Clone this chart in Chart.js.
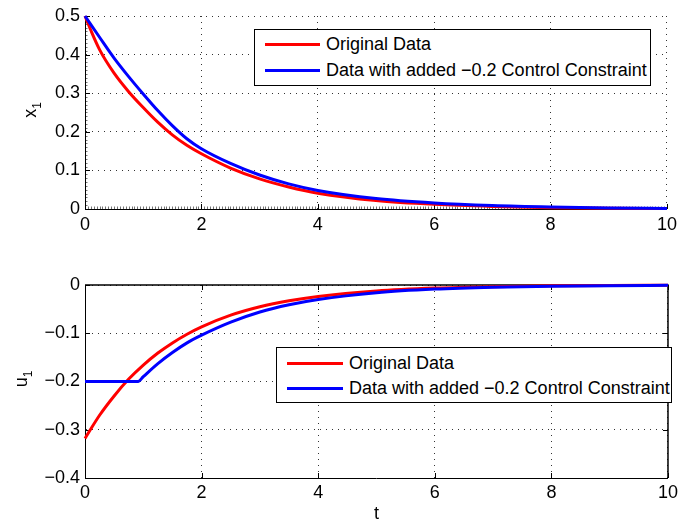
<!DOCTYPE html>
<html><head><meta charset="utf-8">
<script src="https://cdn.jsdelivr.net/npm/chart.js@4/dist/chart.umd.min.js"></script>
<style>
html,body{margin:0;padding:0;background:#fff;}
#wrap{position:relative;width:682px;height:525px;overflow:hidden;font-family:"Liberation Sans",Arial,sans-serif;color:#000;}
canvas{position:absolute;left:0;}
#c1{top:0;}
#c2{top:262px;}
.legend{position:absolute;border:1.5px solid #000;background:#fff;box-sizing:border-box;font-size:18px;}
.row{position:absolute;left:0;right:0;height:26px;line-height:26px;white-space:nowrap;}
.swatch{position:absolute;top:11.5px;height:3px;}
.ltext{position:absolute;top:0;}
.ylab{position:absolute;width:40px;height:20px;line-height:20px;text-align:center;font-size:18px;transform:rotate(-90deg);white-space:nowrap;}
.ylab sub{font-size:12px;vertical-align:-5px;line-height:0;}
</style></head>
<body>
<div id="wrap">
<canvas id="c1" width="682" height="262"></canvas>
<canvas id="c2" width="682" height="263"></canvas>
<div class="ylab" style="left:10px;top:100px;">x<sub>1</sub></div>
<div class="ylab" style="left:1px;top:369px;">u<sub>1</sub></div>
</div>
<script>
// ---- data ----
const seriesNames = ['Original Data', 'Data with added \u22120.2 Control Constraint'];
const seriesColors = ['#ff0000', '#0000ff'];

const tX1Original = [0,0.1,0.25,0.5,0.75,1,1.25,1.5,1.75,2,2.5,3,3.5,4,5,6,7,8,9,10];
const x1Original  = [0.5,0.463,0.413,0.352,0.304,0.263,0.225,0.192,0.165,0.143,0.106,0.078,0.057,0.041,0.022,0.012,0.0065,0.0035,0.0019,0.001];

const tX1Constrained = [0,0.25,0.5,0.75,1,1.25,1.5,1.75,2,2.5,3,3.5,4,5,6,7,8,9,10];
const x1Constrained  = [0.5,0.445,0.391,0.343,0.298,0.255,0.216,0.182,0.156,0.118,0.088,0.065,0.048,0.027,0.0155,0.0088,0.005,0.0028,0.0016];

const tU1Original = [0,0.25,0.5,0.75,1,1.25,1.5,1.75,2,2.5,3,3.5,4,5,6,7,8,9,10];
const u1Original  = [-0.318,-0.270,-0.230,-0.195,-0.166,-0.141,-0.120,-0.102,-0.0867,-0.0626,-0.0452,-0.0327,-0.0236,-0.0123,-0.0064,-0.0034,-0.0018,-0.0009,-0.0005];

const tU1Constrained = [0,0.5,0.91,1,1.25,1.5,1.75,2,2.5,3,3.5,4,5,6,7,8,9,10];
const u1Constrained  = [-0.2,-0.2,-0.2,-0.19,-0.163,-0.14,-0.12,-0.104,-0.077,-0.056,-0.041,-0.03,-0.016,-0.0085,-0.0045,-0.0024,-0.0013,-0.0007];

const tTickValues = [0,2,4,6,8,10];
const tTickLabels = ['0','2','4','6','8','10'];
const x1TickValues = [0,0.1,0.2,0.3,0.4,0.5];
const x1TickLabels = ['0','0.1','0.2','0.3','0.4','0.5'];
const u1TickValues = [-0.4,-0.3,-0.2,-0.1,0];
const u1TickLabels = ['\u22120.4','\u22120.3','\u22120.2','\u22120.1','0'];
const xAxisTitle = 't';

// ---- helpers ----
const pts = (ts, ys) => ts.map((t,i)=>({x:t, y:ys[i]}));
Chart.defaults.font.family = '"Liberation Sans", Arial, sans-serif';
Chart.defaults.font.size = 18;
Chart.defaults.color = '#000';

const axesPlugin = {
  id: 'matlabAxes',
  beforeDatasetsDraw(chart, args, opts) {
    const {ctx, chartArea:a, scales:{x, y}} = chart;
    ctx.save();
    if (opts.minorX) {
      ctx.strokeStyle = 'rgba(0,0,0,0.55)'; ctx.lineWidth = 1;
      ctx.beginPath();
      for (let v = x.min; v <= x.max + 1e-9; v += opts.minorX) {
        const px = Math.round(x.getPixelForValue(v)) + 0.5;
        ctx.moveTo(px, a.bottom); ctx.lineTo(px, a.bottom - 2.5);
      }
      for (let v = y.min; v <= y.max + 1e-9; v += opts.minorY) {
        const py = Math.round(y.getPixelForValue(v)) + 0.5;
        ctx.moveTo(a.left, py); ctx.lineTo(a.left + 2.5, py);
      }
      ctx.stroke();
    }
    ctx.strokeStyle = '#000'; ctx.lineWidth = 1;
    ctx.beginPath();
    const L = 5;
    x.ticks.forEach(t => {
      const px = Math.round(x.getPixelForValue(t.value)) + 0.5;
      ctx.moveTo(px, a.bottom); ctx.lineTo(px, a.bottom - L);
      if (opts.box) { ctx.moveTo(px, a.top); ctx.lineTo(px, a.top + L); }
    });
    y.ticks.forEach(t => {
      const py = Math.round(y.getPixelForValue(t.value)) + 0.5;
      ctx.moveTo(a.left, py); ctx.lineTo(a.left + L, py);
      if (opts.box) { ctx.moveTo(a.right, py); ctx.lineTo(a.right - L, py); }
    });
    ctx.stroke();
    if (opts.box) {
      ctx.beginPath();
      ctx.lineWidth = 1.5;
      ctx.moveTo(a.left, a.top); ctx.lineTo(a.right, a.top); ctx.lineTo(a.right, a.bottom);
      ctx.stroke();
    }
    ctx.restore();
  }
};

function makeChart(id, datasets, yVals, yLabels, cfg) {
  return new Chart(document.getElementById(id), {
    type: 'line',
    data: { datasets },
    plugins: [axesPlugin],
    options: {
      responsive: false, animation: false, events: [],
      layout: { padding: { top: cfg.padTop, right: 12, left: 0, bottom: 0 } },
      elements: { point: { radius: 0 }, line: { borderWidth: 3, cubicInterpolationMode: 'monotone' } },
      plugins: { legend: { display: false }, tooltip: { enabled: false }, matlabAxes: cfg.axes },
      scales: {
        x: {
          type: 'linear', min: 0, max: 10,
          afterBuildTicks: s => { s.ticks = tTickValues.map(v => ({value: v})); },
          afterFit: s => { s.height = cfg.xHeight; },
          ticks: { padding: cfg.xPad, maxRotation: 0, autoSkip: false, callback: (v, i) => tTickLabels[i] },
          grid: { color: 'rgba(0,0,0,0.8)', lineWidth: 1, drawTicks: false },
          border: { display: true, color: '#000', width: 1, dash: [1, 5] },
          title: { display: cfg.showTitle, text: xAxisTitle, padding: { top: 0, bottom: 0 }, font: { size: 18 } }
        },
        y: {
          type: 'linear', min: yVals[0], max: yVals[yVals.length - 1],
          afterBuildTicks: s => { s.ticks = yVals.map(v => ({value: v})); },
          afterFit: s => { s.width = 85; },
          ticks: { padding: 5, autoSkip: false, callback: (v, i) => yLabels[i] },
          grid: { color: 'rgba(0,0,0,0.8)', lineWidth: 1, drawTicks: false },
          border: { display: true, color: '#000', width: 1, dash: [1, 5] }
        }
      }
    }
  });
}

function ds(label, color, data, order) {
  return { label, data, borderColor: color, backgroundColor: color, borderWidth: 3, pointRadius: 0, fill: false, order, clip: 6 };
}

const chartTop = makeChart('c1', [
  ds(seriesNames[0], seriesColors[0], pts(tX1Original, x1Original), 1),
  ds(seriesNames[1], seriesColors[1], pts(tX1Constrained, x1Constrained), 0)
], x1TickValues, x1TickLabels, { padTop: 16, xHeight: 53, xPad: 5, showTitle: false, axes: { box: false, minorX: 0.05, minorY: 0.01 } });

const chartBottom = makeChart('c2', [
  ds(seriesNames[0], seriesColors[0], pts(tU1Original, u1Original), 1),
  ds(seriesNames[1], seriesColors[1], pts(tU1Constrained, u1Constrained), 0)
], u1TickValues, u1TickLabels, { padTop: 23, xHeight: 47, xPad: 4, showTitle: true, axes: { box: true } });

function makeLegend(chart, box) {
  const wrap = document.getElementById('wrap');
  const el = document.createElement('div');
  el.className = 'legend';
  Object.assign(el.style, { left: box.left + 'px', top: box.top + 'px', width: box.width + 'px', height: box.height + 'px' });
  chart.data.datasets.forEach((d, i) => {
    const row = document.createElement('div');
    row.className = 'row';
    row.style.top = box.rows[i] + 'px';
    const sw = document.createElement('div');
    sw.className = 'swatch';
    Object.assign(sw.style, { left: box.swLeft + 'px', width: box.swWidth + 'px', background: d.borderColor });
    const tx = document.createElement('span');
    tx.className = 'ltext';
    tx.style.left = box.textLeft + 'px';
    tx.textContent = d.label;
    row.appendChild(sw); row.appendChild(tx);
    el.appendChild(row);
  });
  wrap.appendChild(el);
}
makeLegend(chartTop, { left: 254, top: 29, width: 397, height: 57, rows: [1, 27], swLeft: 10, swWidth: 55, textLeft: 71 });
makeLegend(chartBottom, { left: 276, top: 347, width: 396, height: 56, rows: [2, 27], swLeft: 10, swWidth: 56, textLeft: 72 });
</script>
</body></html>
